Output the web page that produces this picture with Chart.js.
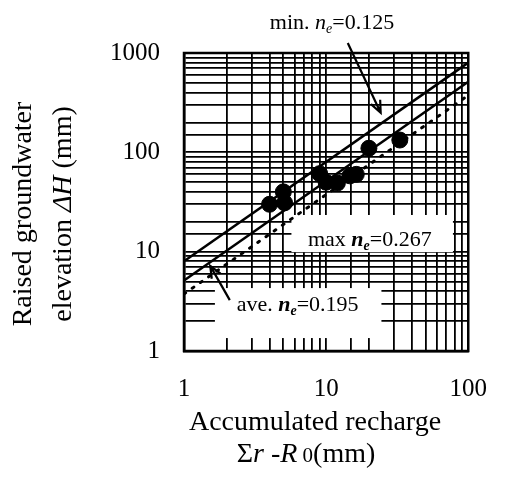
<!DOCTYPE html>
<html>
<head>
<meta charset="utf-8">
<script src="https://cdn.jsdelivr.net/npm/chart.js@4"></script>
<style>
  body { margin: 0; background: #fff; }
</style>
</head>
<body>
<canvas id="chart" width="510" height="488"></canvas>
<script>
// measured points
const recharge = [4.0, 5.0, 5.1, 9.0, 10.0, 12.0, 14.7, 16.3, 20.0, 33.0];
const elevation = [30, 40, 31, 61, 50, 49, 58, 60, 110, 133];

// reference lines, read at x = 1 and x = 100
const lineX = [1, 100];
const minLine = [8, 800];     // min. ne = 0.125
const aveLine = [5.13, 513];  // ave. ne = 0.195
const maxLine = [3.75, 375];  // max ne = 0.267

const xTickLabels = [1, 10, 100];
const yTickLabels = [1, 10, 100, 1000];

const serif = '"Liberation Serif", "Times New Roman", serif';
const T = s => s + 'px ' + serif;
const I = s => 'italic ' + s + 'px ' + serif;
const BI = s => 'italic bold ' + s + 'px ' + serif;

const pts = (xs, ys) => xs.map((x, i) => ({ x: x, y: ys[i] }));

// draw a run of differently styled pieces, centred on x
function rich(c, parts, x, y) {
  let w = 0;
  parts.forEach(p => { c.font = p[1]; p.w = c.measureText(p[0]).width; w += p.w; });
  let cx = x - w / 2;
  c.textAlign = 'left';
  c.textBaseline = 'alphabetic';
  parts.forEach(p => { c.font = p[1]; c.fillText(p[0], cx, y + (p[2] || 0)); cx += p.w; });
}

function arrow(c, x1, y1, x2, y2) {
  const a = Math.atan2(y2 - y1, x2 - x1), h = 13;
  c.beginPath();
  c.moveTo(x1, y1); c.lineTo(x2, y2);
  c.moveTo(x2 - h * Math.cos(a - 0.4), y2 - h * Math.sin(a - 0.4));
  c.lineTo(x2, y2);
  c.lineTo(x2 - h * Math.cos(a + 0.4), y2 - h * Math.sin(a + 0.4));
  c.stroke();
}

const notes = {
  beforeDatasetsDraw(chart) {
    const c = chart.ctx, sx = chart.scales.x, sy = chart.scales.y;
    const box = (x0, x1, y0, y1) => {
      const l = sx.getPixelForValue(x0), r = sx.getPixelForValue(x1);
      const t = sy.getPixelForValue(y1), b = sy.getPixelForValue(y0);
      c.fillRect(l, t, r - l, b - t);
    };
    c.save();
    c.fillStyle = '#fff';
    box(5.7, 78, 9.9, 23.4);
    box(1.65, 24.5, 1.35, 4.3);
    c.restore();
  },
  afterDraw(chart) {
    const c = chart.ctx, sx = chart.scales.x, sy = chart.scales.y, a = chart.chartArea;
    const X = v => sx.getPixelForValue(v), Y = v => sy.getPixelForValue(v);
    c.save();
    c.fillStyle = '#000';
    c.strokeStyle = '#000';
    c.lineWidth = 2.5;
    c.strokeRect(a.left, a.top, a.right - a.left, a.bottom - a.top);

    c.lineWidth = 2.2;
    rich(c, [['min. ', T(22)], ['n', I(22)], ['e', I(14), 4], ['=0.125', T(22)]], X(11), Y(1750));
    arrow(c, X(14.2), Y(1260), X(24.2), Y(250));
    rich(c, [['max ', T(22)], ['n', BI(22)], ['e', BI(14), 4], ['=0.267', T(22)]], X(20.3), Y(11.4));
    rich(c, [['ave. ', T(22)], ['n', BI(22)], ['e', BI(14), 4], ['=0.195', T(22)]], X(6.3), Y(2.5));
    arrow(c, X(2.1), Y(3.25), X(1.53), Y(7.2));

    // axis titles
    rich(c, [['Accumulated recharge', T(28)]], 315, 430);
    rich(c, [['\u03A3', T(28)], ['r', I(28)], [' -', T(28)], ['R', I(28)], [' 0', T(21)], ['(mm)', T(28)]], 306, 462);
    c.translate(0, 214);
    c.rotate(-Math.PI / 2);
    rich(c, [['Raised groundwater', T(28)]], 0, 31);
    rich(c, [['elevation ', T(28)], ['\u0394H', I(28)], [' (mm)', T(28)]], 0, 71);
    c.restore();
  }
};

new Chart(document.getElementById('chart'), {
  type: 'scatter',
  data: {
    datasets: [
      { label: 'measured', data: pts(recharge, elevation), pointRadius: 8,
        backgroundColor: '#000', borderColor: '#000', showLine: false, order: 0 },
      { label: 'min', type: 'line', data: pts(lineX, minLine), borderColor: '#000',
        borderWidth: 2.5, pointRadius: 0, order: 1 },
      { label: 'ave', type: 'line', data: pts(lineX, aveLine), borderColor: '#000',
        borderWidth: 2.5, pointRadius: 0, order: 1 },
      { label: 'max', type: 'line', data: pts(lineX, maxLine), borderColor: '#000',
        borderWidth: 3, borderDash: [2, 8], borderCapStyle: 'round', pointRadius: 0, order: 1 }
    ]
  },
  options: {
    responsive: false,
    animation: false,
    layout: { padding: { top: 53, right: 24, left: 0, bottom: 0 } },
    plugins: { legend: { display: false }, tooltip: { enabled: false } },
    scales: {
      x: {
        type: 'logarithmic', min: 1, max: 100,
        afterFit(s) { s.height = 137; },
        grid: { color: '#000', lineWidth: 1.8, drawTicks: false },
        border: { color: '#000', width: 2.5 },
        ticks: {
          autoSkip: false, maxRotation: 0, padding: 23, color: '#000', font: { family: serif, size: 25 },
          callback: v => xTickLabels.includes(v) ? String(v) : ''
        }
      },
      y: {
        type: 'logarithmic', min: 1, max: 1000,
        afterFit(s) { s.width = 184; },
        grid: { color: '#000', lineWidth: 1.8, drawTicks: false },
        border: { color: '#000', width: 2.5 },
        ticks: {
          autoSkip: false, padding: 24, color: '#000', font: { family: serif, size: 25 },
          callback: v => yTickLabels.includes(v) ? String(v) : ''
        }
      }
    }
  },
  plugins: [notes]
});
</script>
</body>
</html>
